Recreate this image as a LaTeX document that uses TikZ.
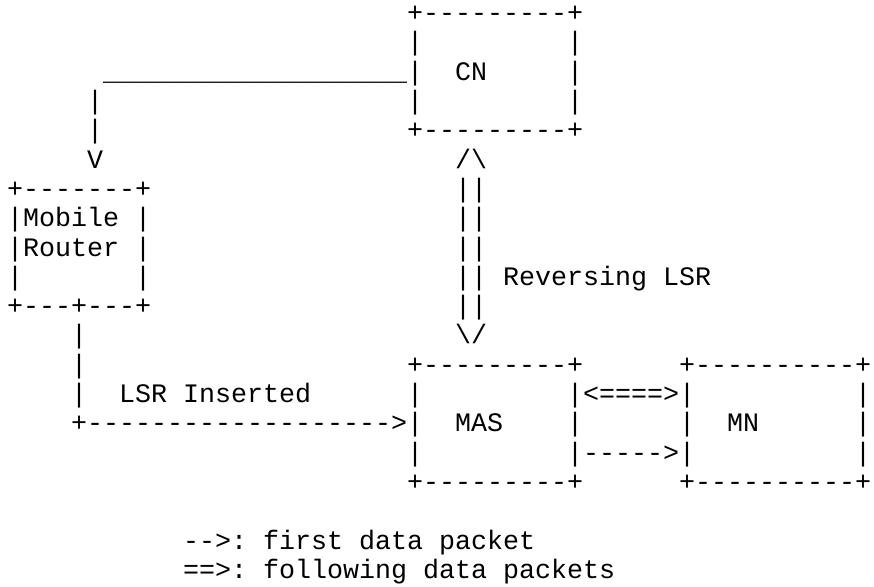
\documentclass[tikz,border=0pt]{standalone}
\usepackage{fontspec}
\setmonofont{Liberation Mono}
\tikzset{asc/.style={anchor=base west, inner sep=0pt, outer sep=0pt,
  font=\ttfamily\fontsize{26.67pt}{29.3pt}\selectfont, text=black}}
\newcommand\asctxt[4]{\node[asc] (#1) at ({7+16*#2},{21.6+29.3*#3}) {#4};}
\begin{document}
\begin{tikzpicture}[x=1pt,y=-1pt]
\useasboundingbox[fill=white] (0,0) rectangle (874,586);
% CN box
\asctxt{cnT}{25}{0}{+---------+}
\asctxt{cnL1}{25}{1}{|}
\asctxt{cnR1}{35}{1}{|}
\asctxt{line}{6}{2}{\_\_\_\_\_\_\_\_\_\_\_\_\_\_\_\_\_\_\_}
\asctxt{cnL2}{25}{2}{|}
\asctxt{cn}{28}{2}{CN}
\asctxt{cnR2}{35}{2}{|}
\asctxt{dn1}{5}{3}{|}
\asctxt{cnL3}{25}{3}{|}
\asctxt{cnR3}{35}{3}{|}
\asctxt{dn2}{5}{4}{|}
\asctxt{cnB}{25}{4}{+---------+}
\asctxt{dnV}{5}{5}{V}
\asctxt{up}{28}{5}{/\textbackslash}
% Mobile Router box
\asctxt{mrT}{0}{6}{+-------+}
\asctxt{r6}{28}{6}{||}
\asctxt{mr1}{0}{7}{|Mobile~|}
\asctxt{r7}{28}{7}{||}
\asctxt{mr2}{0}{8}{|Router~|}
\asctxt{r8}{28}{8}{||}
\asctxt{mr3}{0}{9}{|~~~~~~~|}
\asctxt{r9}{28}{9}{||}
\asctxt{rev}{31}{9}{Reversing LSR}
\asctxt{mrB}{0}{10}{+---+---+}
\asctxt{r10}{28}{10}{||}
\asctxt{v11}{4}{11}{|}
\asctxt{down}{28}{11}{\textbackslash/}
% MAS and MN boxes
\asctxt{v12}{4}{12}{|}
\asctxt{masT}{25}{12}{+---------+}
\asctxt{mnT}{42}{12}{+----------+}
\asctxt{v13}{4}{13}{|}
\asctxt{ins}{7}{13}{LSR Inserted}
\asctxt{masL1}{25}{13}{|}
\asctxt{dbl}{35}{13}{|<====>|}
\asctxt{mnR1}{53}{13}{|}
\asctxt{arr}{4}{14}{+------------------->|}
\asctxt{mas}{28}{14}{MAS}
\asctxt{masR2}{35}{14}{|}
\asctxt{mnL2}{42}{14}{|}
\asctxt{mn}{45}{14}{MN}
\asctxt{mnR2}{53}{14}{|}
\asctxt{masL3}{25}{15}{|}
\asctxt{sgl}{35}{15}{|----->|}
\asctxt{mnR3}{53}{15}{|}
\asctxt{masB}{25}{16}{+---------+}
\asctxt{mnB}{42}{16}{+----------+}
% legend
\asctxt{leg1}{11}{18}{-->: first data packet}
\asctxt{leg2}{11}{19}{==>: following data packets}
\end{tikzpicture}
\end{document}
